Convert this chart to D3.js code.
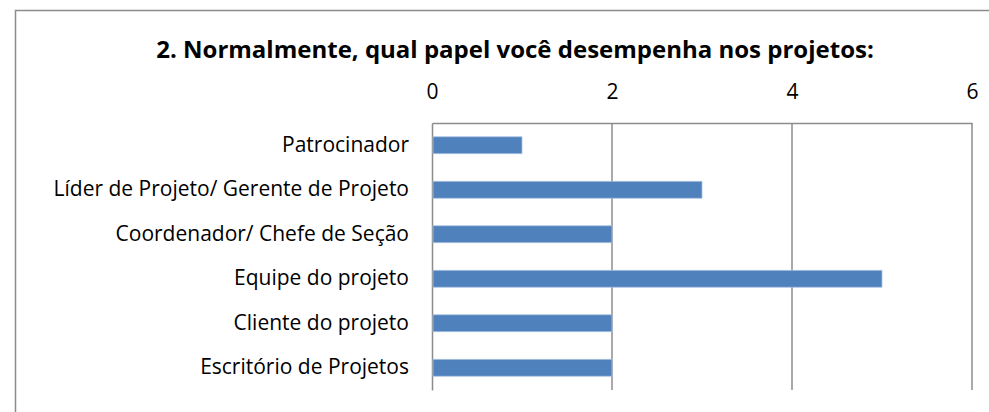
<!DOCTYPE html>
<html>
<head>
<meta charset="utf-8">
<title>Papel nos projetos</title>
<script src="https://d3js.org/d3.v7.min.js"></script>
<style>
  body { margin: 0; background: white; }
  svg text { font-family: 'Open Sans', sans-serif; fill: #000; }
</style>
</head>
<body>
<svg id="chart"></svg>
<script>
// data
var categories = ["Patrocinador", "Líder de Projeto/ Gerente de Projeto", "Coordenador/ Chefe de Seção",
                  "Equipe do projeto", "Cliente do projeto", "Escritório de Projetos"];
var values = [1, 3, 2, 5, 2, 2];
var tickValues = [0, 2, 4, 6];
var title = "2. Normalmente, qual papel você desempenha nos projetos:";

var width = 989, height = 412;
var svg = d3.select("#chart").attr("width", width).attr("height", height);

// outer frame (runs off the right and bottom edge)
svg.append("rect")
  .attr("x", 15.5).attr("y", 10.5)
  .attr("width", 1000).attr("height", 450)
  .attr("fill", "white")
  .attr("stroke", "#8c8c8c")
  .attr("stroke-width", 1.5);

var plot = { left: 432, right: 972, top: 123, bottom: 390 };

var x = d3.scaleLinear().domain([0, 6]).range([plot.left, plot.right]);
var y = d3.scaleBand().domain(categories).range([plot.top, plot.bottom]).paddingInner(0.62).paddingOuter(0.31);

svg.append("text")
  .attr("x", 515).attr("y", 58)
  .attr("text-anchor", "middle")
  .attr("font-size", 24)
  .attr("font-weight", "bold")
  .text(title);

// gridlines
svg.append("g").selectAll("line")
  .data(tickValues.slice(1))
  .enter().append("line")
  .attr("x1", function(d) { return x(d); })
  .attr("x2", function(d) { return x(d); })
  .attr("y1", plot.top).attr("y2", plot.bottom)
  .attr("stroke", "#8c8c8c").attr("stroke-width", 1.5);

// top axis
var xAxis = svg.append("g")
  .attr("transform", "translate(0," + plot.top + ")")
  .call(d3.axisTop(x).tickValues(tickValues).tickSize(0).tickPadding(24).tickFormat(d3.format("d")));
xAxis.select(".domain").attr("stroke", "#8c8c8c").attr("stroke-width", 1.5);
xAxis.selectAll("text").attr("font-size", 21).attr("font-family", "'Open Sans', sans-serif");

// left axis
var yAxis = svg.append("g")
  .attr("transform", "translate(" + plot.left + ",0)")
  .call(d3.axisLeft(y).tickSize(0).tickPadding(23));
yAxis.select(".domain").attr("stroke", "#8c8c8c").attr("stroke-width", 1.5);
yAxis.selectAll("text").attr("font-size", 21).attr("font-family", "'Open Sans', sans-serif");

// bars
svg.append("g").selectAll("rect")
  .data(values)
  .enter().append("rect")
  .attr("x", x(0) + 1)
  .attr("y", function(d, i) { return y(categories[i]); })
  .attr("width", function(d) { return x(d) - x(0) - 1; })
  .attr("height", y.bandwidth())
  .attr("fill", "#4f81bd")
  .attr("stroke", "#a7c0de")
  .attr("stroke-width", 0.8);
</script>
</body>
</html>
